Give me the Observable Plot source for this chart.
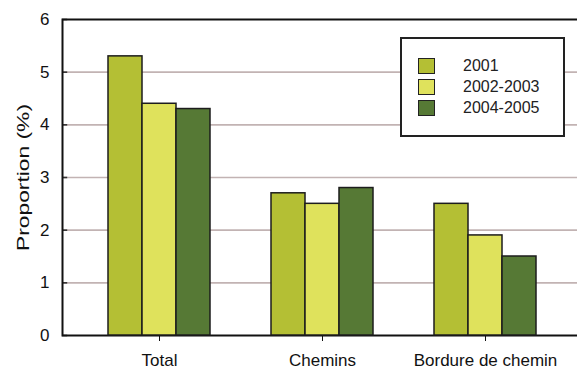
<!DOCTYPE html>
<html>
<head>
<meta charset="utf-8">
<script src="https://cdn.jsdelivr.net/npm/d3@7"></script>
<script src="https://cdn.jsdelivr.net/npm/@observablehq/plot@0.6"></script>
<style>
  html, body { margin: 0; padding: 0; background: #fff; overflow: hidden; }
  #wrap { position: relative; width: 577px; height: 369px; font-family: "Liberation Sans", Arial, sans-serif; }
  #wrap svg { position: absolute; left: 0; top: 0; }
  #legend { position: absolute; left: 400px; top: 37px; width: 161px; height: 96px; border: 2px solid #222; background: #fff; box-sizing: content-box; }
  .sw { position: absolute; left: 16px; width: 15px; height: 14px; border: 1.5px solid #222; }
  .lt { position: absolute; left: 61px; font-size: 16px; color: #222; white-space: nowrap; line-height: 20px; }
</style>
</head>
<body>
<div id="wrap"></div>
<script>
const categories = ["Total", "Chemins", "Bordure de chemin"];
const series = ["2001", "2002-2003", "2004-2005"];
const values2001 = [5.3, 2.7, 2.5];
const values2002_2003 = [4.4, 2.5, 1.9];
const values2004_2005 = [4.3, 2.8, 1.5];
const colors = ["#b4bf34", "#dfe25c", "#567935"];
const yTicks = [0, 1, 2, 3, 4, 5, 6];
const yLabel = "Proportion (%)";

const seriesValues = [values2001, values2002_2003, values2004_2005];
const data = [];
categories.forEach((c, i) => series.forEach((s, j) => data.push({cat: c, series: s, value: seriesValues[j][i]})));

const W = 577, H = 369;
const font = {fontFamily: "'Liberation Sans', Arial, sans-serif", fontSize: "17px", color: "#111", overflow: "visible"};

// background layer: frame, grid, y axis
const back = Plot.plot({
  width: W, height: H,
  marginLeft: 62, marginTop: 19, marginBottom: 34, marginRight: -5,
  style: {...font, background: "white"},
  x: {domain: [0, 1], axis: null},
  y: {domain: [0, 6], ticks: yTicks, tickFormat: d3.format("d"), tickSize: 0, tickPadding: 13, label: yLabel, labelAnchor: "center", labelOffset: 46},
  marks: [
    Plot.ruleY(yTicks.filter(d => d > 0 && d < 6), {stroke: "#c2b3b3", strokeWidth: 1.6}),
    Plot.ruleY(yTicks, {x1: 0, x2: 0.01, stroke: "#333", strokeWidth: 1.6}),
    Plot.frame({stroke: "#111", strokeWidth: 2})
  ]
});

// bars layer: faceted grouped bars
const front = Plot.plot({
  width: W, height: H,
  marginLeft: 62, marginTop: 19, marginBottom: 34, marginRight: -5,
  style: {...font, background: "transparent"},
  facet: {data, x: "cat"},
  fx: {domain: categories, paddingInner: 0.374, paddingOuter: 0.282, label: null, tickSize: 6, tickPadding: 12},
  x: {domain: series, padding: 0, axis: null},
  y: {domain: [0, 6], axis: null},
  color: {domain: series, range: colors},
  marks: [
    Plot.barY(data, {x: "series", y: "value", fill: "series", stroke: "#1d1d1d", strokeWidth: 1.5})
  ]
});

const wrap = document.getElementById("wrap");
wrap.appendChild(back);
wrap.appendChild(front);

// drop the arrow and stretch the y label as in reference
d3.select(back).selectAll("text").filter(function () { return this.textContent.trim().startsWith("Proportion"); })
  .text(yLabel).attr("textLength", 147).attr("lengthAdjust", "spacingAndGlyphs");

// legend
const legend = document.createElement("div");
legend.id = "legend";
series.forEach((s, i) => {
  const top = 18 + i * 21;
  const sw = document.createElement("div");
  sw.className = "sw"; sw.style.top = (top + 1) + "px"; sw.style.background = colors[i];
  const t = document.createElement("div");
  t.className = "lt"; t.style.top = (top - 1) + "px"; t.textContent = s;
  legend.appendChild(sw); legend.appendChild(t);
});
wrap.appendChild(legend);
</script>
</body>
</html>
